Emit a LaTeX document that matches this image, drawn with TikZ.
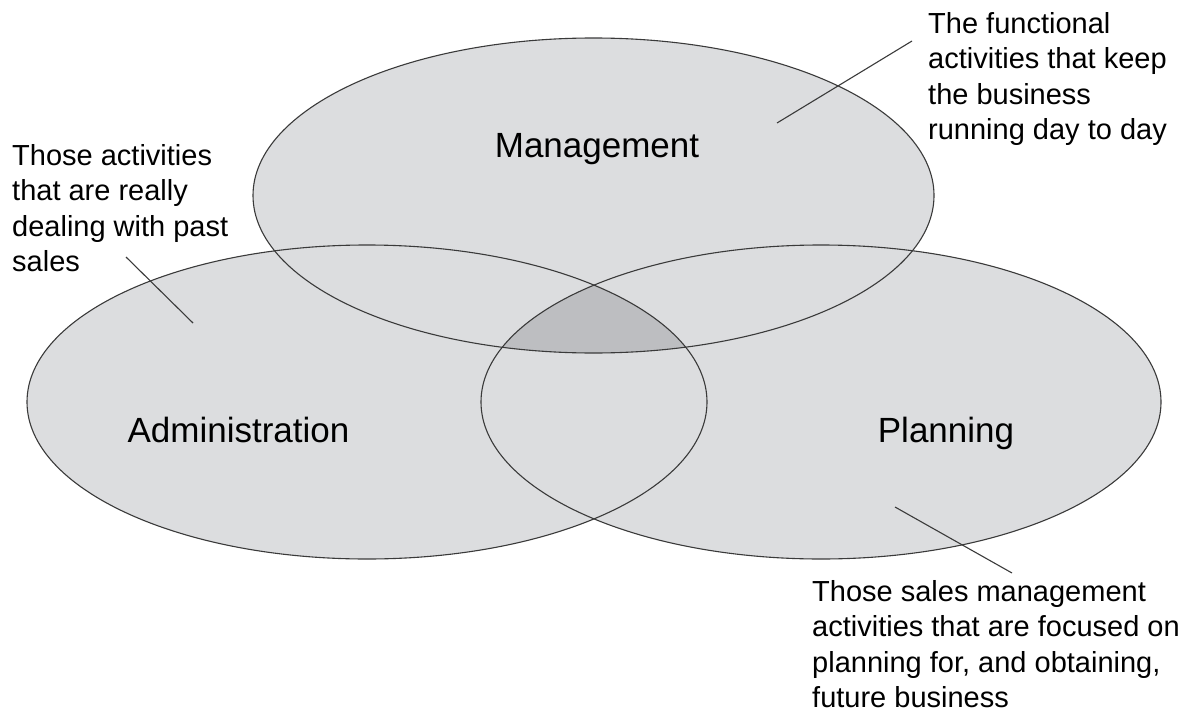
\documentclass[tikz,border=0pt]{standalone}
\usepackage{fontspec}
\setmainfont{Liberation Sans}
\definecolor{setfill}{HTML}{DCDDDF}
\definecolor{corefill}{HTML}{BDBEC1}
\definecolor{inkline}{HTML}{3A3A3A}
\begin{document}
\begin{tikzpicture}[x=1pt,y=-1pt,
    setline/.style={draw=inkline,line width=1.1pt},
    leader/.style={draw=inkline,line width=1.1pt},
    setlabel/.style={inner sep=0pt,anchor=base,text=black,font=\fontsize{35}{42}\selectfont},
    note/.style={inner sep=0pt,anchor=north west,align=left,text=black,font=\fontsize{29}{35.5}\selectfont}]
\useasboundingbox (0,0) rectangle (1199,709);

% the three sets
\def\mgmtset{(593.5,195.5) ellipse [x radius=340.5pt, y radius=157.5pt]}
\def\adminset{(367,402) ellipse [x radius=340pt, y radius=157pt]}
\def\planset{(821,402) ellipse [x radius=340pt, y radius=157pt]}

\fill[setfill] \mgmtset;
\fill[setfill] \adminset;
\fill[setfill] \planset;

% region shared by all three sets
\begin{scope}
  \clip \mgmtset;
  \clip \adminset;
  \fill[corefill] \planset;
\end{scope}

\draw[setline] \mgmtset;
\draw[setline] \adminset;
\draw[setline] \planset;

% set names
\node[setlabel] (mgmt) at (597,157) {Management};
\node[setlabel] (admin) at (238.5,442) {Administration};
\node[setlabel] (plan) at (946,442) {Planning};

% explanatory notes
\node[note] (mgmtnote) at (928,12) {The functional\\activities that keep\\the business\\running day to day};
\node[note] (adminnote) at (12,144) {Those activities\\that are really\\dealing with past\\sales};
\node[note] (plannote) at (812,580) {Those sales management\\activities that are focused on\\planning for, and obtaining,\\future business};

% leader lines from notes into the sets
\coordinate (mgmtin) at (777,123);
\coordinate (mgmtout) at (912,41);
\coordinate (adminin) at (193,323);
\coordinate (adminout) at (126,257);
\coordinate (planin) at (895,507);
\coordinate (planout) at (1012,573);
\draw[leader] (mgmtout) -- (mgmtin);
\draw[leader] (adminout) -- (adminin);
\draw[leader] (planout) -- (planin);
\end{tikzpicture}
\end{document}
